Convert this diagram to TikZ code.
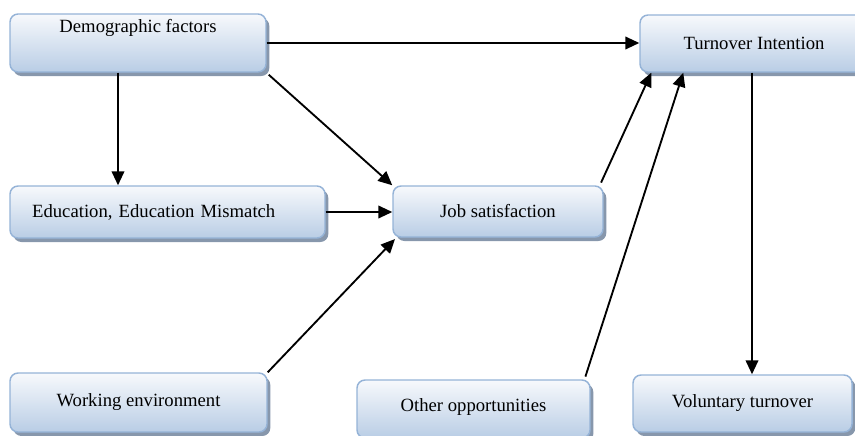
\documentclass[tikz,border=0pt]{standalone}
\usepackage{fontspec}
\setmainfont{Liberation Serif}
\usetikzlibrary{shadows,arrows.meta}
\definecolor{boxborder}{HTML}{95B3D7}
\definecolor{boxtop}{HTML}{F7F9FC}
\definecolor{boxbot}{HTML}{B9CDE5}
\definecolor{boxshadow}{HTML}{8797AC}
\tikzset{
  box/.style={draw=boxborder, line width=1.1pt, rounded corners=6pt,
    top color=boxtop, bottom color=boxbot,
    drop shadow={shadow xshift=2.5pt, shadow yshift=-3pt, fill=boxshadow, opacity=1},
    font=\fontsize{14}{16}\selectfont, inner sep=0pt},
  arr/.style={line width=1.4pt, -{Triangle[length=10.5pt,width=9.5pt]}}
}
\begin{document}
\begin{tikzpicture}[x=0.75pt,y=-0.75pt]
\useasboundingbox (0,0) rectangle (855,435);
\clip (0,0) rectangle (855,435);
\node[box, minimum width=192pt, minimum height=43.5pt, text depth=25.5pt] (demo) at (138,43) {Demographic factors};
\node[box, minimum width=171pt, minimum height=42.75pt] (turn) at (754,43.5) {Turnover Intention};
\node[box, minimum width=236.25pt, minimum height=39pt, text width=203pt, align=left, inner xsep=16.5pt] (edu) at (167.5,212) {Education, Education Mismatch};
\node[box, minimum width=157.5pt, minimum height=38.25pt] (job) at (498,211.5) {Job satisfaction};
\node[box, minimum width=192.75pt, minimum height=44.25pt] (work) at (138.5,402.5) {Working environment};
\node[box, minimum width=174.75pt, minimum height=43.5pt, text depth=5.5pt] (other) at (473.5,409) {Other opportunities};
\node[box, minimum width=164.25pt, minimum height=42.75pt] (vol) at (742.5,403.5) {Voluntary turnover};

\draw[arr] (demo.east) -- (turn.west |- demo.east);
\draw[arr] ([xshift=-15pt]demo.south) -- ([xshift=-15pt]demo.south |- edu.north);
\draw[arr] ([xshift=1.5pt,yshift=-1.5pt]demo.south east) -- (job.north west);
\draw[arr] (edu.east) -- (job.west |- edu.east);
\draw[arr] (work.north east) -- ([xshift=2pt,yshift=-1pt]job.south west);
\draw[arr] ([xshift=-2pt,yshift=2pt]job.north east) -- ([xshift=9pt]turn.south west);
\draw[arr] ([xshift=-4pt,yshift=2pt]other.north east) -- ([xshift=33pt]turn.south west);
\draw[arr] ([xshift=-1.5pt]turn.south) -- ([xshift=-1.5pt]turn.south |- vol.north);
\end{tikzpicture}
\end{document}
